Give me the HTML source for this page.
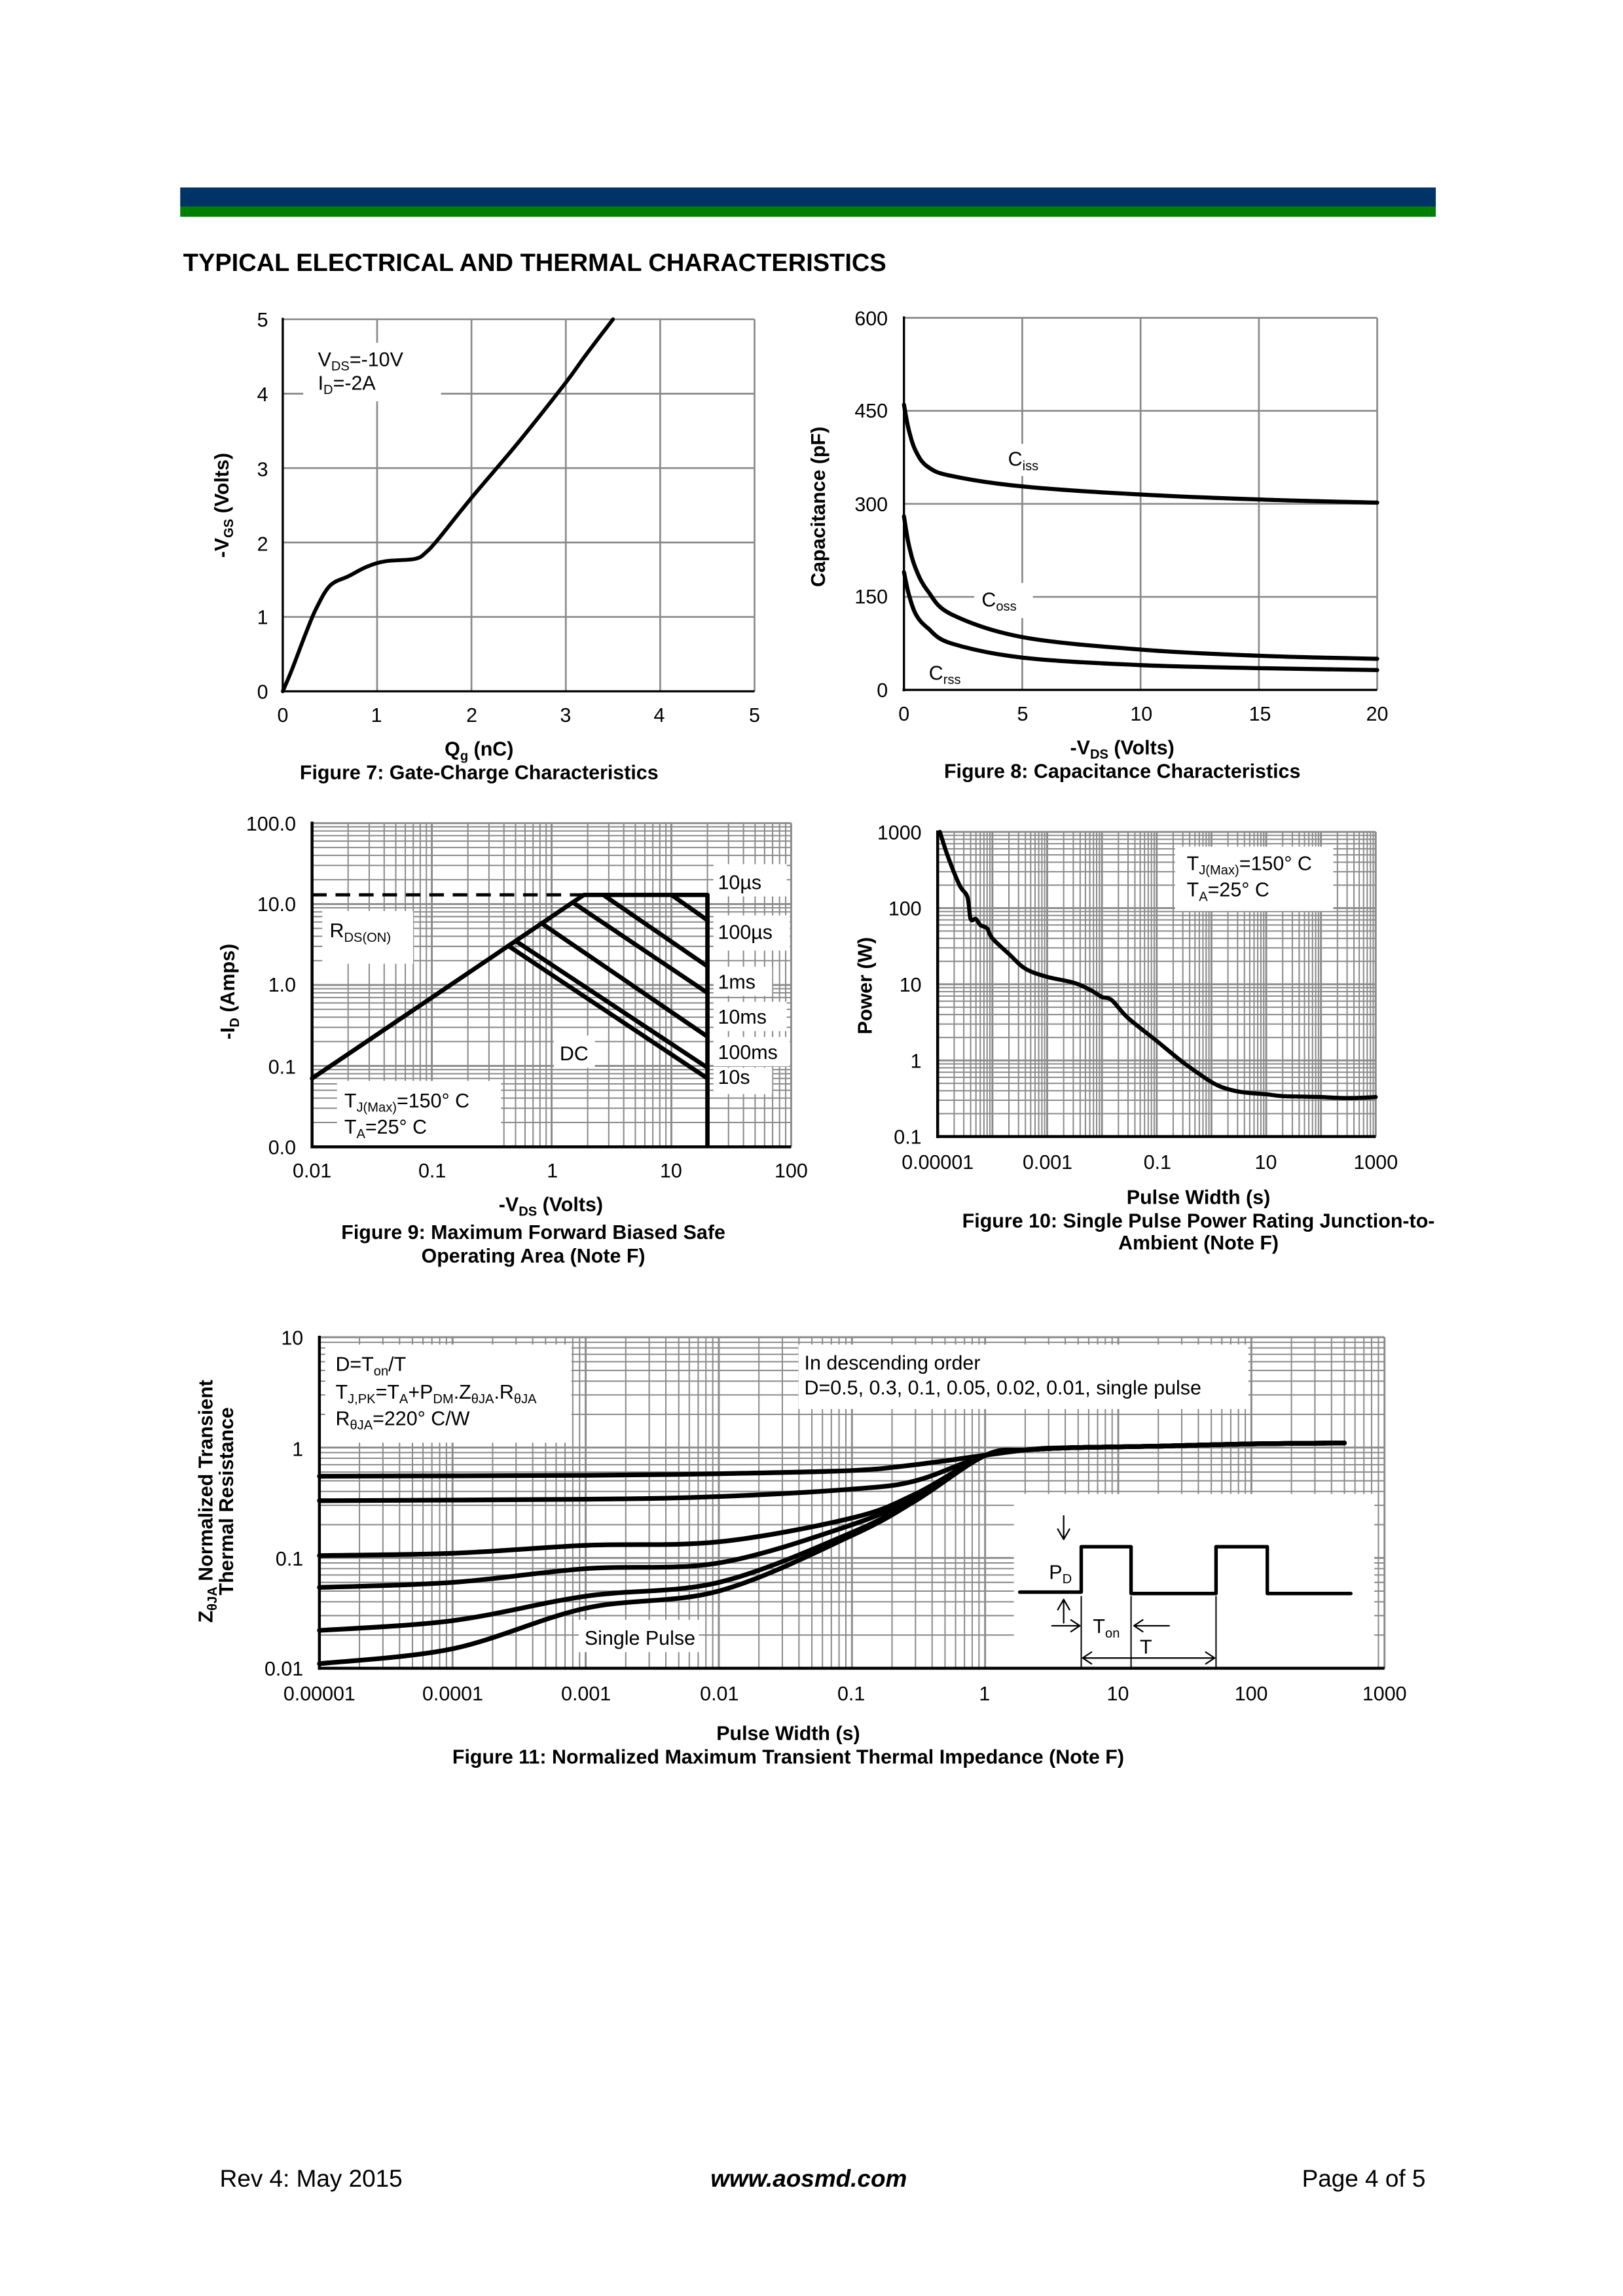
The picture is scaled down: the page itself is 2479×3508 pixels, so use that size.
<!DOCTYPE html>
<html><head><meta charset="utf-8">
<style>
html,body{margin:0;padding:0;background:#fff;}
svg{display:block;}
text{font-family:"Liberation Sans",Arial,sans-serif;fill:#000;}
.t{font-size:13.6px;}
.b{font-weight:bold;}
</style></head>
<body>
<svg id="s" width="2479" height="3508" viewBox="0 0 1107.7 1567.6" preserveAspectRatio="xMinYMin meet" xmlns="http://www.w3.org/2000/svg">
<rect x="0" y="0" width="1108" height="1568" fill="#fff"/>
<rect x="123" y="128" width="857" height="13" fill="#003366"/>
<rect x="123" y="141" width="857" height="7" fill="#008000"/>
<text x="125" y="185" class="b" style="font-size:17px">TYPICAL ELECTRICAL AND THERMAL CHARACTERISTICS</text>

<g id="grid"></g>
<g id="boxes" fill="#fff">
  <rect x="207" y="234" width="94" height="40"/>
  <rect x="682" y="303" width="30" height="22"/>
  <rect x="665" y="398" width="40" height="24"/>
  <rect x="628" y="450" width="32" height="20"/>
  <rect x="220" y="622" width="62" height="36"/>
  <rect x="487" y="590" width="50" height="22"/>
  <rect x="487" y="625" width="52" height="24"/>
  <rect x="487" y="660" width="40" height="20"/>
  <rect x="487" y="684" width="50" height="20"/>
  <rect x="487" y="708" width="52" height="20"/>
  <rect x="487" y="729" width="40" height="18"/>
  <rect x="378" y="707" width="28" height="22"/>
  <rect x="230" y="738" width="112" height="44"/>
  <rect x="802" y="578" width="108" height="44"/>
  <rect x="222" y="918" width="168" height="67"/>
  <rect x="545" y="918" width="307" height="44"/>
  <rect x="692" y="1020" width="246" height="119"/>
  <rect x="395" y="1106" width="82" height="22"/>
</g>
<g id="curves" fill="none" stroke="#000"></g>

<g class="t" text-anchor="end">
<text x="183" y="223">5</text><text x="183" y="274">4</text><text x="183" y="325">3</text>
<text x="183" y="376">2</text><text x="183" y="426">1</text><text x="183" y="477">0</text>
</g>
<g class="t" text-anchor="middle">
<text x="193" y="493">0</text><text x="257" y="493">1</text><text x="322" y="493">2</text>
<text x="386" y="493">3</text><text x="450" y="493">4</text><text x="515" y="493">5</text>
</g>
<text x="217" y="250" class="t">V<tspan font-size="9" dy="3">DS</tspan><tspan dy="-3">=-10V</tspan></text>
<text x="217" y="266" class="t">I<tspan font-size="9" dy="3">D</tspan><tspan dy="-3">=-2A</tspan></text>
<text transform="translate(156,345) rotate(-90)" text-anchor="middle" class="t b">-V<tspan font-size="9" dy="3">GS</tspan><tspan dy="-3"> (Volts)</tspan></text>
<text x="327" y="516" text-anchor="middle" class="t b">Q<tspan font-size="9" dy="3">g</tspan><tspan dy="-3"> (nC)</tspan></text>
<text x="327" y="532" text-anchor="middle" class="t b">Figure 7: Gate-Charge Characteristics</text>

<g class="t" text-anchor="end">
<text x="606" y="222">600</text><text x="606" y="285">450</text><text x="606" y="349">300</text>
<text x="606" y="412">150</text><text x="606" y="476">0</text>
</g>
<g class="t" text-anchor="middle">
<text x="617" y="492">0</text><text x="698" y="492">5</text><text x="779" y="492">10</text>
<text x="860" y="492">15</text><text x="940" y="492">20</text>
</g>
<text x="688" y="318" class="t">C<tspan font-size="9" dy="3">iss</tspan></text>
<text x="670" y="414" class="t">C<tspan font-size="9" dy="3">oss</tspan></text>
<text x="634" y="464" class="t">C<tspan font-size="9" dy="3">rss</tspan></text>
<text transform="translate(563,346) rotate(-90)" text-anchor="middle" class="t b">Capacitance (pF)</text>
<text x="766" y="515" text-anchor="middle" class="t b">-V<tspan font-size="9" dy="3">DS</tspan><tspan dy="-3"> (Volts)</tspan></text>
<text x="766" y="531" text-anchor="middle" class="t b">Figure 8: Capacitance Characteristics</text>

<g class="t" text-anchor="end">
<text x="202" y="567">100.0</text><text x="202" y="622">10.0</text><text x="202" y="677">1.0</text>
<text x="202" y="733">0.1</text><text x="202" y="788">0.0</text>
</g>
<g class="t" text-anchor="middle">
<text x="213" y="804">0.01</text><text x="295" y="804">0.1</text><text x="377" y="804">1</text>
<text x="458" y="804">10</text><text x="540" y="804">100</text>
</g>
<text x="225" y="640" class="t">R<tspan font-size="9" dy="3">DS(ON)</tspan></text>
<text x="490" y="607" class="t">10µs</text>
<text x="490" y="641" class="t">100µs</text>
<text x="490" y="675" class="t">1ms</text>
<text x="490" y="699" class="t">10ms</text>
<text x="490" y="723" class="t">100ms</text>
<text x="490" y="740" class="t">10s</text>
<text x="382" y="724" class="t">DC</text>
<text x="235" y="756" class="t">T<tspan font-size="9" dy="3">J(Max)</tspan><tspan dy="-3">=150° C</tspan></text>
<text x="235" y="774" class="t">T<tspan font-size="9" dy="3">A</tspan><tspan dy="-3">=25° C</tspan></text>
<text transform="translate(160,677) rotate(-90)" text-anchor="middle" class="t b">-I<tspan font-size="9" dy="3">D</tspan><tspan dy="-3"> (Amps)</tspan></text>
<text x="376" y="827" text-anchor="middle" class="t b">-V<tspan font-size="9" dy="3">DS</tspan><tspan dy="-3"> (Volts)</tspan></text>
<text x="364" y="846" text-anchor="middle" class="t b">Figure 9: Maximum Forward Biased Safe</text>
<text x="364" y="862" text-anchor="middle" class="t b">Operating Area (Note F)</text>

<g class="t" text-anchor="end">
<text x="629" y="573">1000</text><text x="629" y="625">100</text><text x="629" y="677">10</text>
<text x="629" y="729">1</text><text x="629" y="781">0.1</text>
</g>
<g class="t" text-anchor="middle">
<text x="640" y="798">0.00001</text><text x="715" y="798">0.001</text><text x="790" y="798">0.1</text>
<text x="864" y="798">10</text><text x="939" y="798">1000</text>
</g>
<text x="810" y="594" class="t">T<tspan font-size="9" dy="3">J(Max)</tspan><tspan dy="-3">=150° C</tspan></text>
<text x="810" y="612" class="t">T<tspan font-size="9" dy="3">A</tspan><tspan dy="-3">=25° C</tspan></text>
<text transform="translate(595,673) rotate(-90)" text-anchor="middle" class="t b">Power (W)</text>
<text x="818" y="822" text-anchor="middle" class="t b">Pulse Width (s)</text>
<text x="818" y="838" text-anchor="middle" class="t b">Figure 10: Single Pulse Power Rating Junction-to-</text>
<text x="818" y="853" text-anchor="middle" class="t b">Ambient (Note F)</text>

<g class="t" text-anchor="end">
<text x="207" y="918">10</text><text x="207" y="994">1</text><text x="207" y="1069">0.1</text>
<text x="207" y="1144">0.01</text>
</g>
<g class="t" text-anchor="middle">
<text x="218" y="1161">0.00001</text><text x="309" y="1161">0.0001</text><text x="400" y="1161">0.001</text>
<text x="491" y="1161">0.01</text><text x="581" y="1161">0.1</text><text x="672" y="1161">1</text>
<text x="763" y="1161">10</text><text x="854" y="1161">100</text><text x="945" y="1161">1000</text>
</g>
<text x="229" y="936" class="t">D=T<tspan font-size="9" dy="3">on</tspan><tspan dy="-3">/T</tspan></text>
<text x="229" y="955" class="t">T<tspan font-size="9" dy="3">J,PK</tspan><tspan dy="-3">=T</tspan><tspan font-size="9" dy="3">A</tspan><tspan dy="-3">+P</tspan><tspan font-size="9" dy="3">DM</tspan><tspan dy="-3">.Z</tspan><tspan font-size="9" dy="3">θJA</tspan><tspan dy="-3">.R</tspan><tspan font-size="9" dy="3">θJA</tspan></text>
<text x="229" y="973" class="t">R<tspan font-size="9" dy="3">θJA</tspan><tspan dy="-3">=220° C/W</tspan></text>
<text x="549" y="935" class="t">In descending order</text>
<text x="549" y="952" class="t">D=0.5, 0.3, 0.1, 0.05, 0.02, 0.01, single pulse</text>
<text x="399" y="1123" class="t">Single Pulse</text>
<text x="716" y="1078" class="t">P<tspan font-size="9" dy="3">D</tspan></text>
<text x="746" y="1115" class="t">T<tspan font-size="9" dy="3">on</tspan></text>
<text x="778" y="1129" class="t">T</text>
<text transform="translate(145,1025) rotate(-90)" text-anchor="middle" class="t b">Z<tspan font-size="9" dy="3">θJA</tspan><tspan dy="-3"> Normalized Transient</tspan></text>
<text transform="translate(159,1025) rotate(-90)" text-anchor="middle" class="t b">Thermal Resistance</text>
<text x="538" y="1188" text-anchor="middle" class="t b">Pulse Width (s)</text>
<text x="538" y="1204" text-anchor="middle" class="t b">Figure 11: Normalized Maximum Transient Thermal Impedance (Note F)</text>

<text x="150" y="1493" style="font-size:16.5px">Rev 4: May 2015</text>
<text x="552" y="1493" text-anchor="middle" style="font-size:16.5px;font-weight:bold;font-style:italic">www.aosmd.com</text>
<text x="973" y="1493" text-anchor="end" style="font-size:16.5px">Page 4 of 5</text>
</svg>
<script>
var NS="http://www.w3.org/2000/svg";
var G=document.getElementById('grid'),C=document.getElementById('curves');
function ln(g,x1,y1,x2,y2,st,w,da){var e=document.createElementNS(NS,'line');e.setAttribute('x1',x1);e.setAttribute('y1',y1);e.setAttribute('x2',x2);e.setAttribute('y2',y2);e.setAttribute('stroke',st);e.setAttribute('stroke-width',w);if(da)e.setAttribute('stroke-dasharray',da);g.appendChild(e);}
function pth(g,d,w){var e=document.createElementNS(NS,'path');e.setAttribute('d',d);e.setAttribute('stroke','#000');e.setAttribute('stroke-width',w);e.setAttribute('fill','none');e.setAttribute('stroke-linejoin','round');e.setAttribute('stroke-linecap','round');g.appendChild(e);}
var L=Math.log10;
function logGrid(x0,x1,y0,y1,xd,yd){
  for(var i=0;i<xd;i++)for(var k=1;k<10;k++){var x=x0+(i+L(k))*(x1-x0)/xd;ln(G,x,y0,x,y1,'#8a8a8a',k==1?1.3:0.9);}
  ln(G,x1,y0,x1,y1,'#8a8a8a',1.3);
  for(var i=0;i<yd;i++)for(var k=1;k<10;k++){var y=y1-(i+L(k))*(y1-y0)/yd;ln(G,x0,y,x1,y,'#8a8a8a',k==1?1.3:0.9);}
  ln(G,x0,y0,x1,y0,'#8a8a8a',1.3);
}
function smooth(p){var d='M'+p[0][0].toFixed(1)+','+p[0][1].toFixed(1);
  for(var i=0;i<p.length-1;i++){var p0=p[i-1]||p[i],p1=p[i],p2=p[i+1],p3=p[i+2]||p2;
    d+=' C'+(p1[0]+(p2[0]-p0[0])/6).toFixed(1)+','+(p1[1]+(p2[1]-p0[1])/6).toFixed(1)+' '+(p2[0]-(p3[0]-p1[0])/6).toFixed(1)+','+(p2[1]-(p3[1]-p1[1])/6).toFixed(1)+' '+p2[0].toFixed(1)+','+p2[1].toFixed(1);}
  return d;}
function poly(p){return 'M'+p.map(function(a){return a[0].toFixed(1)+','+a[1].toFixed(1)}).join(' L');}
var f7x=function(q){return 193+q*64.4},f7y=function(v){return 472-v*50.8};
for(var i=1;i<=5;i++){ln(G,f7x(i),218,f7x(i),472,'#8a8a8a',1.2);ln(G,193,f7y(i),515,f7y(i),'#8a8a8a',1.2);}
ln(C,193,217,193,473,'#000',1.5);ln(C,192,472,515,472,'#000',1.5);
pth(C,smooth([[0,0],[0.1,0.3],[0.25,0.8],[0.35,1.1],[0.5,1.42],[0.7,1.55],[0.9,1.68],[1.1,1.75],[1.4,1.78],[1.52,1.87],[1.65,2.05],[2.0,2.6],[2.5,3.35],[3,4.15],[3.2,4.5],[3.5,5.0]].map(function(a){return[f7x(a[0]),f7y(a[1])]})),2.6);
var f8x=function(v){return 617+v*16.15},f8y=function(c){return 471-c*254/600};
for(var i=1;i<=4;i++){ln(G,f8x(i*5),217,f8x(i*5),471,'#8a8a8a',1.2);ln(G,617,f8y(i*150),940,f8y(i*150),'#8a8a8a',1.2);}
ln(C,617,216,617,472,'#000',1.5);ln(C,616,471,940,471,'#000',1.5);
[[[0,460],[0.2,420],[0.5,385],[1,360],[2,345],[5,328],[10,315],[15,307],[20,302]],
 [[0,280],[0.2,235],[0.5,195],[1,160],[2,122],[5,85],[10,65],[15,55],[20,50]],
 [[0,190],[0.2,155],[0.5,122],[1,100],[2,75],[5,52],[10,40],[15,35],[20,32]]].forEach(function(s){
 pth(C,smooth(s.map(function(a){return[f8x(a[0]),f8y(a[1])]})),2.8);});
var f9x=function(v){return 213+(L(v)+2)*327/4},f9y=function(v){return 783-(L(v)+2)*221/4};
logGrid(213,540,562,783,4,4);
ln(C,213,561,213,784,'#000',2);ln(C,212,783,540,783,'#000',2);
ln(C,f9x(20),f9y(13),f9x(20),784,'#000',3);
ln(C,213,f9y(13),f9x(1.8),f9y(13),'#000',2.2,'10,6');
var S=function(a){return[f9x(a[0]),f9y(a[1])]};
pth(C,poly([[0.01,0.07],[1.86,13],[20,13]].map(S)),3);
pth(C,poly([[10,13],[20,6.3]].map(S)),3);
pth(C,poly([[2.7,13],[20,1.7]].map(S)),3);
pth(C,poly([[1.5,10.5],[20,0.8]].map(S)),3);
pth(C,poly([[0.82,5.8],[20,0.23]].map(S)),3);
pth(C,poly([[0.5,3.5],[20,0.095]].map(S)),3);
pth(C,poly([[0.44,3.0],[20,0.07]].map(S)),3);
var fx=function(v){return 640+(L(v)+5)*299/8},fy=function(v){return 776-(L(v)+1)*208/4};
logGrid(640,939,568,776,8,4);
ln(C,640,567,640,777,'#000',2);ln(C,639,776,939,776,'#000',2);
pth(C,smooth([[1.1e-5,1000],[1.5e-5,500],[2.5e-5,200],[3.5e-5,140],[4e-5,72],[5e-5,72],[6e-5,60],[8e-5,54],[1e-4,40],[2e-4,25],[4e-4,16],[1e-3,12.5],[3e-3,10.5],[6e-3,8.5],[1e-2,6.8],[1.5e-2,6.2],[3e-2,3.6],[1e-1,1.8],[3e-1,0.95],[1,0.52],[2,0.42],[4,0.38],[10,0.36],[20,0.34],[100,0.33],[300,0.32],[1000,0.33]].map(function(a){return[fx(a[0]),fy(a[1])]})),2.8);
var gx=function(v){return 218+(L(v)+5)*727/8},gy=function(v){return 1139-(L(v)+2)*226/3};
logGrid(218,945,913,1139,8,3);
ln(C,218,912,218,1140,'#000',2);ln(C,217,1139,945,1139,'#000',2);
var tail=[[1,0.85],[2,0.95],[5,1.0],[20,1.03],[100,1.08],[500,1.1]];
[[[1e-5,0.55],[1e-3,0.56],[1e-2,0.58],[0.1,0.62],[0.3,0.7]],
 [[1e-5,0.33],[1e-3,0.34],[1e-2,0.36],[0.1,0.42],[0.3,0.5]],
 [[1e-5,0.105],[1e-4,0.11],[1e-3,0.13],[1e-2,0.14],[0.1,0.23],[0.3,0.38]],
 [[1e-5,0.054],[1e-4,0.06],[1e-3,0.08],[1e-2,0.09],[0.1,0.2],[0.3,0.36]],
 [[1e-5,0.022],[1e-4,0.027],[1e-3,0.045],[1e-2,0.06],[0.1,0.17],[0.3,0.34]],
 [[1e-5,0.011],[1e-4,0.015],[1e-3,0.035],[1e-2,0.05],[0.1,0.16],[0.3,0.33]]].forEach(function(s,i){
  var pts=s.concat(i==0?tail.slice(1):tail);
  pth(C,smooth(pts.map(function(a){return[gx(a[0]),gy(a[1])]})),3.2);});
pth(C,'M696,1087 H738 V1056 H772 V1088 H830 V1056 H865 V1088 H922',2.4);
pth(C,'M726,1035 V1050 M722,1044 L726,1051 L730,1044 M726,1108 V1093 M722,1099 L726,1092 L730,1099',1);
pth(C,'M738,1090 V1139 M772,1090 V1139 M830,1090 V1139',0.9);
pth(C,'M718,1110 H736 M731,1106 L737,1110 L731,1114 M798,1110 H775 M780,1106 L774,1110 L780,1114',1);
pth(C,'M740,1132 H828 M745,1128 L739,1132 L745,1136 M823,1128 L829,1132 L823,1136',1);
</script>
</body></html>
